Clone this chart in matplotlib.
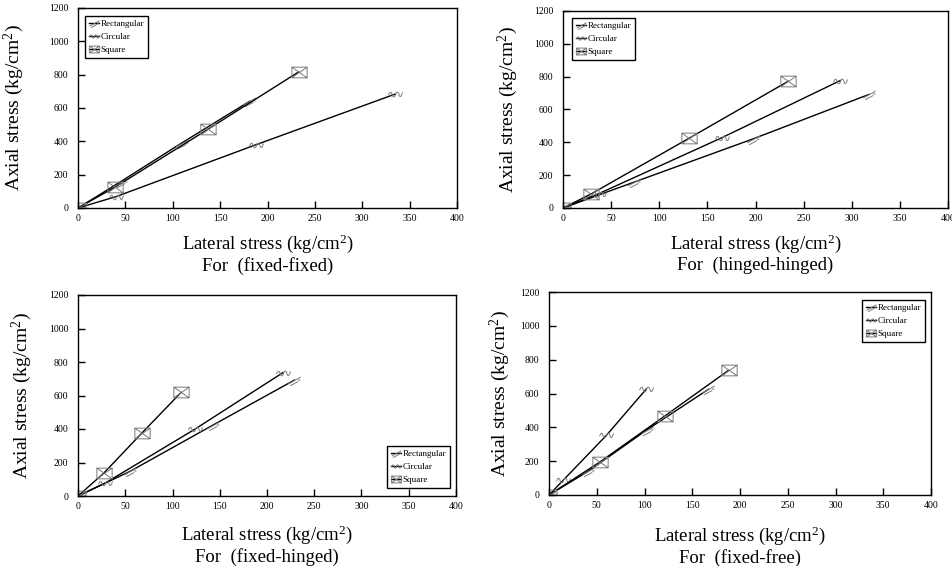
import matplotlib
matplotlib.use("Agg")
import matplotlib.pyplot as plt
from matplotlib.path import Path

plt.rcParams["font.family"] = ["Liberation Serif", "DejaVu Serif"]
plt.rcParams["mathtext.fontset"] = "custom"
plt.rcParams["mathtext.rm"] = "Liberation Serif"
plt.rcParams["mathtext.it"] = "Liberation Serif:italic"

# ---- data: (lateral stress, axial stress) per section shape and support case ----
cases = ["fixed-fixed", "hinged-hinged", "fixed-hinged", "fixed-free"]

rect_x = {"fixed-fixed": [0, 45, 110, 181], "hinged-hinged": [0, 74, 197, 318],
          "fixed-hinged": [0, 55, 143, 229], "fixed-free": [0, 41, 103, 167]}
rect_y = {"fixed-fixed": [0, 158, 392, 640], "hinged-hinged": [0, 158, 420, 692],
          "fixed-hinged": [0, 147, 424, 692], "fixed-free": [0, 140, 387, 625]}

circ_x = {"fixed-fixed": [0, 40, 188, 335], "hinged-hinged": [0, 37, 165, 288],
          "fixed-hinged": [0, 29, 124, 217], "fixed-free": [0, 15, 60, 102]}
circ_y = {"fixed-fixed": [0, 68, 380, 684], "hinged-hinged": [0, 87, 428, 776],
          "fixed-hinged": [0, 78, 400, 737], "fixed-free": [0, 88, 352, 627]}

sq_x = {"fixed-fixed": [0, 39, 137, 233], "hinged-hinged": [0, 29, 131, 234],
        "fixed-hinged": [0, 27, 68, 109], "fixed-free": [0, 53, 121, 188]}
sq_y = {"fixed-fixed": [0, 125, 472, 817], "hinged-hinged": [0, 85, 425, 772],
        "fixed-hinged": [0, 135, 378, 618], "fixed-free": [0, 194, 466, 737]}

x_ticks = [0, 50, 100, 150, 200, 250, 300, 350, 400]
y_ticks = [0, 200, 400, 600, 800, 1000, 1200]

# ---- custom marker glyphs ----
M, L, C4, CL = Path.MOVETO, Path.LINETO, Path.CURVE4, Path.CLOSEPOLY

# slanted feather stroke
rect_marker = Path(
    [(-1.0, -0.55), (1.0, 0.55), (-0.7, -0.85), (0.6, -0.15), (0.55, 0.1), (0.95, 0.05)],
    [M, L, M, L, M, L])

# double wave
circ_marker = Path(
    [(-1.0, -0.1), (-0.8, 0.45), (-0.6, 0.45), (-0.5, 0.0),
     (-0.4, -0.45), (-0.1, -0.45), (0.0, 0.0),
     (0.1, 0.45), (0.4, 0.45), (0.5, 0.0),
     (0.6, -0.45), (0.8, -0.45), (1.0, 0.3)],
    [M, C4, C4, C4, C4, C4, C4, C4, C4, C4, C4, C4, C4])

# envelope: box with crossed diagonals
sq_marker = Path(
    [(-1.0, -0.7), (1.0, -0.7), (1.0, 0.7), (-1.0, 0.7), (-1.0, -0.7),
     (-1.0, 0.7), (1.0, -0.7), (-1.0, -0.7), (1.0, 0.7)],
    [M, L, L, L, CL, M, L, M, L])

series = [
    ("Rectangular", rect_x, rect_y, rect_marker, 9),
    ("Circular", circ_x, circ_y, circ_marker, 10),
    ("Square", sq_x, sq_y, sq_marker, 11),
]

W, H = 952, 566
fig = plt.figure(figsize=(W / 100, H / 100), dpi=100)

# axes boxes in pixels: left, right, top, bottom
boxes = {
    "fixed-fixed": (78, 457, 8, 208),
    "hinged-hinged": (563, 948, 11, 208),
    "fixed-hinged": (78, 456, 295, 496),
    "fixed-free": (549, 931, 292, 495),
}
# right edge (text baseline side) of the rotated y label, in pixels
ylabel_x = {"fixed-fixed": 26, "hinged-hinged": 520, "fixed-hinged": 34, "fixed-free": 512}
xlabel_top = {"fixed-fixed": 232, "hinged-hinged": 232, "fixed-hinged": 523, "fixed-free": 524}
legend_box = {  # left, top in pixels
    "fixed-fixed": (85, 16),
    "hinged-hinged": (572, 18),
    "fixed-hinged": (387, 446),
    "fixed-free": (862, 300),
}

for case in cases:
    l, r, t, b = boxes[case]
    ax = fig.add_axes([l / W, (H - b) / H, (r - l) / W, (b - t) / H])
    for name, xs, ys, mk, ms in series:
        ax.plot(xs[case], ys[case], color="black", lw=1.0, label=name,
                marker=mk, markersize=ms, markerfacecolor="none",
                markeredgecolor="#7a7a7a", markeredgewidth=0.7)
    ax.set_xlim(0, 400)
    ax.set_ylim(0, 1200)
    ax.set_xticks(x_ticks)
    ax.set_yticks(y_ticks)
    ax.tick_params(direction="in", length=5, width=1, labelsize=7,
                   top=False, right=False, pad=4)
    ax.tick_params(axis="y", pad=7)
    for s in ax.spines.values():
        s.set_linewidth(1.0)
    ax.set_ylabel("Axial stress (kg/cm$^2$)", fontsize=14)
    ax.yaxis.set_label_coords((ylabel_x[case] - l) / (r - l), 0.5)
    ax.set_xlabel("Lateral stress (kg/cm$^2$)\nFor  (%s)" % case, fontsize=13.5,
                  linespacing=1.2)
    ax.xaxis.set_label_coords(0.5, (b - xlabel_top[case]) / (b - t))
    ax.xaxis.label.set_verticalalignment("top")

    lx, ly = legend_box[case]
    leg = ax.legend(loc="upper left",
                    bbox_to_anchor=((lx - l) / (r - l), (b - ly) / (b - t)),
                    fontsize=6.5, frameon=True, fancybox=False, framealpha=1,
                    edgecolor="black", handlelength=1.2, handletextpad=0.1,
                    labelspacing=0.55, borderpad=0.4, borderaxespad=0)
    leg.get_frame().set_linewidth(1.0)
    for h in leg.legend_handles:
        h.set_markersize(7)

fig.savefig("out.png", dpi=100)
